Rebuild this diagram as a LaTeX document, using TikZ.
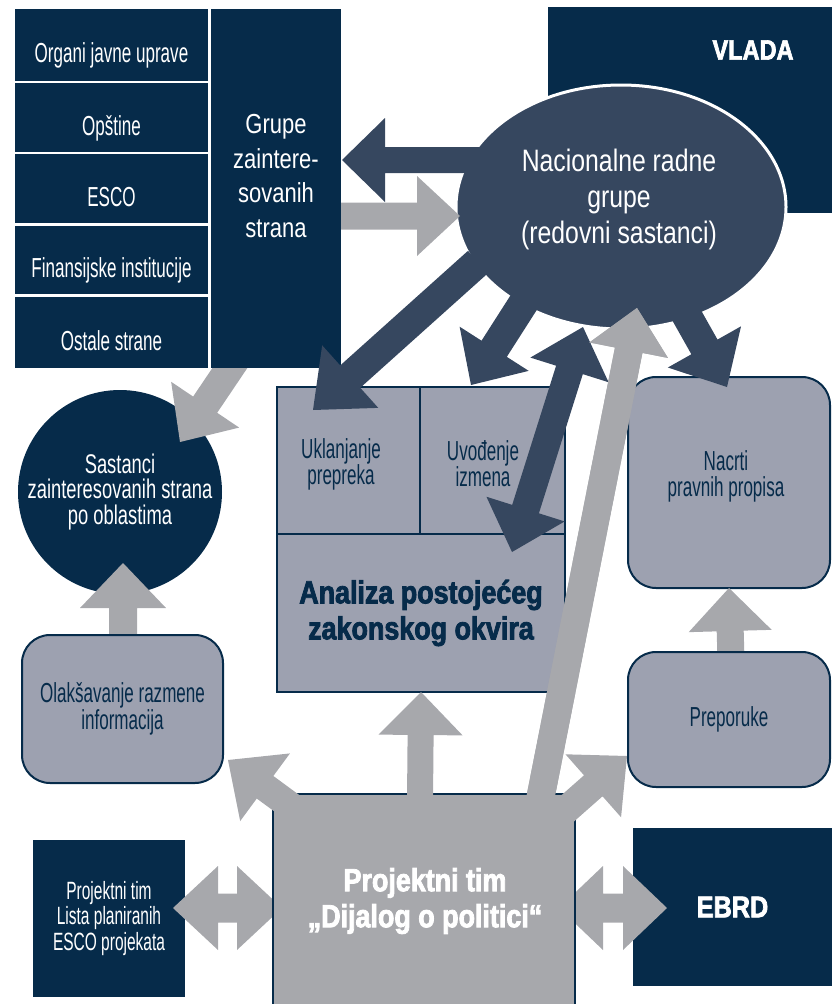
\documentclass[tikz,border=0pt]{standalone}
\usepackage{fontspec}
\setmainfont{Liberation Sans}[FakeStretch=0.68]
\newfontfamily\narrowfont{Liberation Sans}[FakeStretch=0.62]
\newfontfamily\lightfont{Liberation Sans}[FakeStretch=0.8]
\newfontfamily\heavyfont{Liberation Sans}[FakeStretch=0.84, FakeBold=2.5]
\usetikzlibrary{calc,positioning,shapes.geometric}
\definecolor{navy}{RGB}{6,43,74}
\definecolor{slate}{RGB}{54,71,95}
\definecolor{ashgrey}{RGB}{167,168,172}
\definecolor{boxgrey}{RGB}{157,161,176}
\newcommand{\fsz}[2]{\fontsize{#1}{#2}\selectfont}
% block arrow: colour, start, tip, shaft half width, head half width, head length
\newcommand{\blockarrow}[6]{%
  \coordinate (ba-h) at ($(#3)!#6!(#2)$);
  \fill[#1] ($(#2)!#4!90:(#3)$) -- ($(ba-h)!#4!90:(#3)$) -- ($(ba-h)!#5!90:(#3)$) -- (#3)
    -- ($(ba-h)!#5!-90:(#3)$) -- ($(ba-h)!#4!-90:(#3)$) -- ($(#2)!#4!-90:(#3)$) -- cycle;}
% same with two heads
\newcommand{\dblarrow}[6]{%
  \coordinate (ba-a) at ($(#2)!#6!(#3)$);
  \coordinate (ba-b) at ($(#3)!#6!(#2)$);
  \fill[#1] (#2) -- ($(ba-a)!#5!90:(#3)$) -- ($(ba-a)!#4!90:(#3)$) -- ($(ba-b)!#4!90:(#3)$)
    -- ($(ba-b)!#5!90:(#3)$) -- (#3) -- ($(ba-b)!#5!-90:(#3)$) -- ($(ba-b)!#4!-90:(#3)$)
    -- ($(ba-a)!#4!-90:(#3)$) -- ($(ba-a)!#5!-90:(#3)$) -- cycle;}
\tikzset{
  darkbox/.style={fill=navy, text=white, anchor=north west},
  greybox/.style={fill=boxgrey, draw=navy, line width=2pt, text=navy, anchor=north west, font=\narrowfont\fsz{27.5}{25.5}},
  roundbox/.style={greybox, rounded corners=28pt},
  rowbox/.style={darkbox, minimum width=193pt, font=\narrowfont\fsz{27.5}{25}, text height=35pt, text depth=0pt},
  greytxt/.style={text=navy, font=\narrowfont\fsz{27.5}{26}},
}
\begin{document}
\begin{tikzpicture}[x=1pt,y=-1pt]
  \tikzstyle{every node}=[inner sep=0pt, outer sep=0pt, align=center]
  \useasboundingbox (0,0) rectangle (837,1004);

  \node[circle, fill=navy, minimum size=204pt, text=white, font=\fsz{27}{25.5}] (sas) at (120,492) {Sastanci\\zainteresovanih strana\\po oblastima};
  \coordinate (g8s) at (242,350);
  \coordinate (g8t) at (180,442);
  \blockarrow{ashgrey}{g8s}{g8t}{14.5pt}{41pt}{45pt}

  \node[rowbox, minimum height=72pt] (org) at (15,9) {Organi javne uprave};
  \node[rowbox, minimum height=69pt] (opst) at (15,83) {Opštine};
  \node[rowbox, minimum height=69pt] (esco) at (15,154) {ESCO};
  \node[rowbox, minimum height=68pt] (fin) at (15,226) {Finansijske institucije};
  \node[rowbox, minimum height=71pt] (ost) at (15,297) {Ostale strane};
  \node[darkbox, minimum width=130pt, minimum height=359pt] (grp) at (211,9) {};
  \node[text=white, font=\lightfont\fsz{27.5}{34.5}] (grptxt) at (276,176) {Grupe\\zaintere-\\sovanih\\strana};

  \node[darkbox, minimum width=284pt, minimum height=206pt] (vlada) at (548,7) {};
  \node[text=white, font=\heavyfont\bfseries\fsz{28}{28}] (vladatxt) at (753,50) {VLADA};

  \node[ellipse, fill=slate, draw=white, line width=3pt, minimum width=330pt, minimum height=244pt] (nrg) at (621,207) {};
  \node[text=white, font=\lightfont\fsz{31}{36}] (nrgtxt) at (619,199) {Nacionalne radne\\grupe\\(redovni sastanci)};

  \node[greybox, minimum width=143pt, minimum height=147pt] (ukl) at (277,387) {};
  \node[greybox, minimum width=145pt, minimum height=147pt] (uvo) at (420,387) {};
  \node[greybox, minimum width=288pt, minimum height=158pt, font=\heavyfont\bfseries\fsz{32}{36}] (ana) at (277,534) {Analiza postojećeg\\zakonskog okvira};
  \node[greytxt] (ukltxt) at (341,464) {Uklanjanje\\prepreka};
  \node[greytxt] (uvotxt) at (483,464) {Uvođenje\\izmena};
  \node[roundbox, minimum width=202pt, minimum height=211pt] (ncr) at (628,377) {};
  \node[greytxt] (ncrtxt) at (726,476) {Nacrti\\pravnih propisa};

  \coordinate (d1s) at (500,160);
  \coordinate (d1t) at (342,160);
  \coordinate (d3s) at (478,262);
  \coordinate (d3t) at (313,410);
  \coordinate (d4s) at (549,263);
  \coordinate (d4t) at (471,385);
  \coordinate (d5a) at (512,552);
  \coordinate (d5b) at (583,327);
  \coordinate (d6s) at (660,268);
  \coordinate (d6t) at (727,387);
  \blockarrow{slate}{d1s}{d1t}{13pt}{42pt}{43pt}
  \blockarrow{slate}{d3s}{d3t}{15pt}{42pt}{50pt}
  \blockarrow{slate}{d4s}{d4t}{15pt}{41pt}{43pt}
  \dblarrow{slate}{d5a}{d5b}{14pt}{41pt}{45pt}
  \blockarrow{slate}{d6s}{d6t}{15pt}{42pt}{46pt}

  \coordinate (g2s) at (341,216);
  \coordinate (g2t) at (460,216);
  \coordinate (g7s) at (538,810);
  \coordinate (g7t) at (637,308);
  \blockarrow{ashgrey}{g2s}{g2t}{13.5pt}{40pt}{43pt}
  \blockarrow{ashgrey}{g7s}{g7t}{14pt}{40pt}{43pt}

  \coordinate (g10s) at (123,645);
  \coordinate (g10t) at (123,563);
  \blockarrow{ashgrey}{g10s}{g10t}{14pt}{43pt}{45pt}
  \node[roundbox, minimum width=201pt, minimum height=148pt] (oli) at (22,635) {Olakšavanje razmene\\informacija};

  \coordinate (g14s) at (731,660);
  \blockarrow{ashgrey}{g14s}{ncr.south}{13.5pt}{41.5pt}{43pt}
  \node[roundbox, minimum width=202pt, minimum height=135pt] (pre) at (628,652) {Preporuke};

  \node[darkbox, minimum width=152pt, minimum height=157pt, font=\narrowfont\fsz{25}{25.5}] (plt) at (33,840) {Projektni tim\\Lista planiranih\\ESCO projekata};
  \node[darkbox, minimum width=199pt, minimum height=158pt, font=\heavyfont\bfseries\fsz{30}{30}] (ebrd) at (633,828) {EBRD};
  \coordinate (h1a) at (173,908);
  \coordinate (h1b) at (282,908);
  \coordinate (h2a) at (559,908);
  \coordinate (h2b) at (667,908);
  \dblarrow{ashgrey}{h1a}{h1b}{14.5pt}{42pt}{45pt}
  \dblarrow{ashgrey}{h2a}{h2b}{14.5pt}{42pt}{44pt}

  \node[anchor=north west, fill=ashgrey, draw=navy, line width=2pt, minimum width=302pt, minimum height=212pt] (pdp) at (273,794) {};
  \coordinate (gls) at (330,835);
  \coordinate (glt) at (228,760);
  \coordinate (gus) at (420,800);
  \coordinate (grs) at (533,839);
  \coordinate (grt) at (627,756);
  \blockarrow{ashgrey}{gls}{glt}{14pt}{42pt}{46pt}
  \blockarrow{ashgrey}{gus}{ana.south}{13pt}{42pt}{43pt}
  \blockarrow{ashgrey}{grs}{grt}{14pt}{42pt}{45pt}
  \blockarrow{ashgrey}{g7s}{g7t}{14pt}{40pt}{43pt}
  \node[text=white, font=\heavyfont\bfseries\fsz{32}{36}] (pdptxt) at (425,901) {Projektni tim\\„Dijalog o politici“};
\end{tikzpicture}
\end{document}
